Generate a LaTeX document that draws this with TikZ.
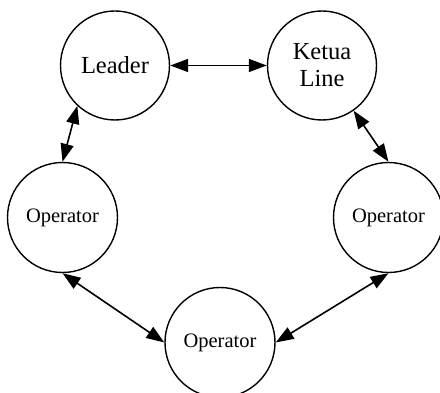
\documentclass[tikz,border=0pt]{standalone}
\usepackage{fontspec}
\setmainfont{Liberation Serif}
\usetikzlibrary{arrows.meta}
\begin{document}
\begin{tikzpicture}[x=1pt,y=-1pt,
  bignode/.style={draw,circle,line width=1.4pt,minimum size=109pt,inner sep=0pt,align=center,font=\fontsize{24.5}{27}\selectfont},
  opnode/.style={draw,circle,line width=1.4pt,minimum size=110pt,inner sep=0pt,font=\fontsize{20.5}{24}\selectfont},
  link/.style={line width=1.6pt,{Triangle[length=18pt,width=13pt]}-{Triangle[length=18pt,width=13pt]}}]
\useasboundingbox (0,0) rectangle (440,393);
\node[bignode] (L) at (115,65.5) {Leader};
\node[bignode] (K) at (322,65.5) {Ketua\\Line};
\node[opnode] (O1) at (62.5,217.5) {Operator};
\node[opnode] (O2) at (388.5,217.5) {Operator};
\node[opnode] (O3) at (220,342.5) {Operator};
\draw[link] (L.east) -- (K.west);
\draw[link] (L.227) -- (O1.north);
\draw[link] (K.305) -- (O2.north);
\draw[link] (O1.south) -- (O3.west);
\draw[link] (O2.south) -- (O3.east);
\end{tikzpicture}
\end{document}
